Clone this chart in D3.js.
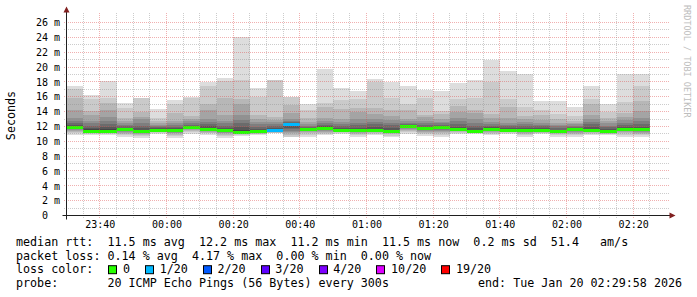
<!DOCTYPE html>
<html>
<head>
<meta charset="utf-8">
<script src="https://cdn.jsdelivr.net/npm/d3@7"></script>
<style>
  html, body { margin: 0; padding: 0; background: #fff; }
  svg { display: block; font-family: 'DejaVu Sans Mono', monospace; }
  .pre { white-space: pre; }
</style>
</head>
<body>
<svg id="chart" width="697" height="297"></svg>
<script>
// time window: 5 minute steps, 35 samples
const START = Date.UTC(2026, 0, 19, 23, 30);
const END = Date.UTC(2026, 0, 20, 2, 30);
const STEP_MS = 5 * 60 * 1000;

// 20 sorted pings per step (ms), null = lost
const pings = [
  [10.9, 11.1, 11.3, 11.45, 11.55, 11.62, 11.68, 11.74, 11.8, 11.85, 11.95, 12.05, 12.2, 12.45, 12.75, 13.1, 14.2, 15.9, 17.0, 17.5],
  [10.8, 10.95, 11.05, 11.12, 11.18, 11.23, 11.27, 11.3, 11.33, 11.35, 11.42, 11.6, 11.85, 12.1, 12.4, 12.8, 13.5, 14.1, 15.7, 16.2],
  [10.9, 11.0, 11.08, 11.14, 11.2, 11.24, 11.28, 11.31, 11.33, 11.35, 11.42, 11.6, 11.95, 12.35, 12.8, 13.3, 14.2, 15.2, 15.9, 18.1],
  [10.55, 10.8, 11.0, 11.15, 11.28, 11.38, 11.45, 11.5, 11.55, 11.58, 11.65, 11.75, 11.85, 12.0, 12.2, 12.4, 12.8, 13.1, 14.5, 15.1],
  [10.4, 10.65, 10.85, 10.98, 11.07, 11.13, 11.18, 11.22, 11.25, 11.27, 11.35, 11.5, 11.8, 12.1, 12.5, 13.0, 13.3, 14.0, 15.8, 15.9],
  [10.95, 11.1, 11.2, 11.28, 11.34, 11.39, 11.43, 11.46, 11.48, 11.49, 11.56, 11.65, 11.75, 11.88, 12.0, 12.2, 12.4, 12.8, 13.2, 14.3],
  [10.4, 10.7, 10.9, 11.05, 11.15, 11.23, 11.3, 11.36, 11.4, 11.43, 11.5, 11.6, 11.75, 11.95, 12.2, 12.5, 12.8, 13.8, 15.0, 15.5],
  [11.0, 11.2, 11.38, 11.5, 11.6, 11.68, 11.74, 11.79, 11.82, 11.85, 11.92, 12.0, 12.1, 12.25, 12.5, 12.8, 13.0, 13.4, 15.8, 16.0],
  [10.9, 11.05, 11.18, 11.28, 11.36, 11.43, 11.48, 11.52, 11.55, 11.58, 11.66, 11.8, 12.0, 12.3, 12.6, 13.0, 14.2, 15.0, 17.4, 18.0],
  [10.4, 10.7, 10.9, 11.05, 11.15, 11.23, 11.3, 11.36, 11.4, 11.43, 11.5, 11.62, 11.82, 12.1, 12.4, 12.8, 13.6, 15.9, 18.1, 18.5],
  [10.7, 10.82, 10.92, 11.0, 11.06, 11.11, 11.15, 11.18, 11.2, 11.22, 11.3, 11.5, 11.9, 12.4, 12.9, 13.6, 15.0, 15.7, 18.2, 24.0],
  [10.8, 10.92, 11.02, 11.08, 11.14, 11.18, 11.21, 11.24, 11.26, 11.27, 11.34, 11.48, 11.7, 11.95, 12.3, 12.6, 13.0, 13.5, 16.0, 17.2],
  [10.95, 11.08, 11.18, 11.26, 11.32, 11.38, 11.42, 11.45, 11.48, 11.5, 11.56, 11.68, 11.85, 12.1, 12.3, 12.6, 12.9, 13.3, 18.3, null],
  [10.4, 10.6, 10.9, 11.1, 11.3, 11.45, 11.6, 11.8, 12.0, 12.2, 12.25, 12.35, 12.45, 12.6, 12.8, 13.0, 13.8, 14.9, 16.0, null],
  [10.55, 10.85, 11.05, 11.2, 11.32, 11.4, 11.47, 11.52, 11.56, 11.58, 11.64, 11.72, 11.82, 11.95, 12.1, 12.3, 12.6, 13.1, 14.2, 15.0],
  [10.8, 11.0, 11.15, 11.28, 11.38, 11.46, 11.53, 11.59, 11.63, 11.66, 11.74, 11.85, 12.0, 12.25, 12.5, 12.8, 13.2, 14.6, 15.2, 19.8],
  [11.0, 11.12, 11.22, 11.3, 11.36, 11.41, 11.44, 11.46, 11.48, 11.49, 11.55, 11.65, 11.8, 12.05, 12.3, 12.6, 13.0, 14.4, 15.5, 17.2],
  [10.55, 10.8, 10.98, 11.1, 11.2, 11.27, 11.33, 11.38, 11.41, 11.43, 11.5, 11.62, 11.85, 12.15, 12.5, 13.0, 13.9, 14.5, 15.7, 16.8],
  [10.8, 10.98, 11.1, 11.2, 11.27, 11.32, 11.36, 11.39, 11.42, 11.44, 11.5, 11.65, 11.95, 12.3, 12.6, 13.0, 13.7, 14.5, 18.0, 18.4],
  [10.55, 10.78, 10.95, 11.06, 11.15, 11.21, 11.26, 11.3, 11.33, 11.35, 11.42, 11.58, 11.85, 12.15, 12.5, 12.9, 13.4, 14.2, 15.9, 18.0],
  [10.95, 11.2, 11.4, 11.55, 11.68, 11.77, 11.84, 11.9, 11.95, 11.98, 12.04, 12.12, 12.22, 12.35, 12.5, 12.7, 13.0, 14.2, 15.0, 17.4],
  [10.75, 10.98, 11.15, 11.3, 11.42, 11.5, 11.57, 11.63, 11.67, 11.7, 11.77, 11.86, 11.98, 12.2, 12.5, 12.8, 13.3, 13.6, 15.8, 16.9],
  [10.55, 10.85, 11.1, 11.3, 11.45, 11.58, 11.68, 11.75, 11.8, 11.84, 11.9, 11.96, 12.04, 12.2, 12.4, 12.6, 13.0, 13.7, 14.1, 16.8],
  [10.95, 11.1, 11.22, 11.32, 11.4, 11.47, 11.52, 11.56, 11.59, 11.61, 11.68, 11.78, 11.95, 12.3, 12.7, 13.2, 13.9, 14.8, 15.7, 17.8],
  [10.95, 11.05, 11.12, 11.18, 11.23, 11.27, 11.3, 11.32, 11.34, 11.35, 11.42, 11.55, 11.75, 12.1, 12.5, 13.0, 13.8, 14.15, 15.9, 18.2],
  [10.8, 10.98, 11.12, 11.24, 11.34, 11.42, 11.48, 11.53, 11.56, 11.58, 11.64, 11.72, 11.86, 12.1, 12.3, 12.6, 13.2, 13.7, 18.0, 20.9],
  [11.0, 11.12, 11.22, 11.3, 11.36, 11.41, 11.44, 11.46, 11.48, 11.49, 11.54, 11.62, 11.76, 12.0, 12.2, 12.5, 13.2, 14.6, 15.7, 19.5],
  [10.55, 10.8, 10.98, 11.1, 11.19, 11.26, 11.31, 11.35, 11.38, 11.4, 11.46, 11.58, 11.8, 12.05, 12.3, 12.6, 13.0, 13.4, 14.6, 19.0],
  [10.95, 11.08, 11.18, 11.26, 11.32, 11.38, 11.42, 11.45, 11.48, 11.49, 11.54, 11.62, 11.76, 12.0, 12.2, 12.5, 12.9, 13.5, 14.15, 15.4],
  [10.6, 10.8, 10.95, 11.05, 11.13, 11.19, 11.24, 11.27, 11.3, 11.31, 11.37, 11.45, 11.58, 11.8, 12.0, 12.2, 12.5, 13.0, 13.7, 15.4],
  [10.6, 10.85, 11.0, 11.15, 11.27, 11.36, 11.43, 11.48, 11.51, 11.53, 11.58, 11.66, 11.77, 11.95, 12.1, 12.3, 12.5, 12.8, 13.35, 14.6],
  [10.8, 10.98, 11.1, 11.2, 11.27, 11.32, 11.36, 11.39, 11.42, 11.44, 11.5, 11.66, 11.95, 12.3, 12.6, 13.0, 13.5, 15.0, 15.7, 17.4],
  [10.8, 10.92, 11.02, 11.1, 11.16, 11.21, 11.25, 11.28, 11.3, 11.31, 11.38, 11.5, 11.66, 11.9, 12.1, 12.4, 12.8, 13.2, 13.9, 15.0],
  [10.6, 10.85, 11.05, 11.2, 11.32, 11.41, 11.48, 11.53, 11.56, 11.58, 11.64, 11.75, 11.95, 12.2, 12.5, 12.9, 13.3, 13.8, 15.3, 19.0],
  [10.55, 10.82, 11.02, 11.18, 11.3, 11.4, 11.47, 11.52, 11.56, 11.58, 11.64, 11.75, 11.95, 12.3, 12.7, 13.2, 14.1, 15.4, 17.5, 19.0]
];

const median = [
  11.9, 11.36, 11.36, 11.59, 11.28, 11.5, 11.45, 11.86, 11.59, 11.45,
  11.23, 11.28, 11.5, 12.2, 11.59, 11.68, 11.5, 11.45, 11.45, 11.36,
  12.0, 11.72, 11.86, 11.63, 11.36, 11.59, 11.5, 11.41, 11.5, 11.32,
  11.54, 11.45, 11.32, 11.59, 11.59
];

const lost = [
  0, 0, 0, 0, 0, 0, 0, 0, 0, 0,
  0, 0, 1, 1, 0, 0, 0, 0, 0, 0,
  0, 0, 0, 0, 0, 0, 0, 0, 0, 0,
  0, 0, 0, 0, 0
];

const lossLevels = [0, 1, 2, 3, 4, 10, 19];
const lossLabels = ['0', '1/20', '2/20', '3/20', '4/20', '10/20', '19/20'];
const lossColors = ['#26ff00', '#00b8ff', '#0059ff', '#5e00ff', '#7e00ff', '#dd00ff', '#ff0000'];

const yTickValues = [0, 2, 4, 6, 8, 10, 12, 14, 16, 18, 20, 22, 24, 26];
const xTickLabels = ['23:40', '00:00', '00:20', '00:40', '01:00', '01:20', '01:40', '02:00', '02:20'];

const legendLines = [
  'median rtt:  11.5 ms avg  12.2 ms max  11.2 ms min  11.5 ms now  0.2 ms sd  51.4   am/s',
  'packet loss: 0.14 % avg  4.17 % max  0.00 % min  0.00 % now'
];
const probeText = 'probe:       20 ICMP Echo Pings (56 Bytes) every 300s';
const endText = 'end: Tue Jan 20 02:29:58 2026';

// ---- layout ----
const X0 = 66.5, X1 = 666.5, Y0 = 215.5, Y1 = 15.5;
const YMAX = 26.95;
const PINGS = 20;

const svg = d3.select('#chart');
svg.append('rect').attr('width', 697).attr('height', 297).attr('fill', '#fff');

const x = d3.scaleUtc().domain([START, END]).range([X0, X1]);
const y = d3.scaleLinear().domain([0, YMAX]).range([Y0, Y1]);

const samples = pings.map((p, i) => ({
  t: START + i * STEP_MS,
  pings: p,
  median: median[i],
  lost: lost[i]
}));

// ---- smoke ----
const smoke = svg.append('g').attr('shape-rendering', 'crispEdges');
for (let k = 1; k <= PINGS / 2; k++) {
  const shade = Math.floor((190 / (PINGS / 2)) * (PINGS / 2 - k)) + 50;
  const col = d3.rgb(shade, shade, shade).formatHex();
  smoke.append('g')
    .selectAll('rect')
    .data(samples.filter(d => d.pings[k - 1] != null && d.pings[PINGS - k] != null))
    .enter()
    .append('rect')
    .attr('x', d => x(d.t))
    .attr('width', d => x(d.t + STEP_MS) - x(d.t))
    .attr('y', d => y(d.pings[PINGS - k]))
    .attr('height', d => y(d.pings[k - 1]) - y(d.pings[PINGS - k]))
    .attr('fill', col);
}

// ---- median coloured by loss ----
function lossColor(n) {
  let c = lossColors[0];
  lossLevels.forEach((lv, i) => { if (n >= lv) c = lossColors[i]; });
  return c;
}
svg.append('g').attr('shape-rendering', 'crispEdges')
  .selectAll('rect')
  .data(samples)
  .enter()
  .append('rect')
  .attr('x', d => x(d.t))
  .attr('width', d => x(d.t + STEP_MS) - x(d.t))
  .attr('y', d => y(d.median) - 1.5)
  .attr('height', 3)
  .attr('fill', d => lossColor(d.lost));

// ---- grid (drawn on top, rrdtool style, 1px dots on whole pixels) ----
const MINOR = 'rgba(143,143,143,0.45)';
const MAJOR = 'rgba(222,79,79,0.45)';
const snap = v => Math.round(v - 0.5) + 0.5;
const grid = svg.append('g').attr('fill', 'none').attr('stroke-width', 1).attr('stroke-dasharray', '1,1');

const yMinor = d3.range(1, 27, 1).filter(v => v % 2 !== 0);
grid.selectAll('.hmin').data(yMinor).enter().append('line')
  .attr('x1', X0 - 2.5).attr('x2', X1 + 2.5)
  .attr('y1', d => snap(y(d))).attr('y2', d => snap(y(d)))
  .attr('stroke', MINOR);
grid.selectAll('.hmaj').data(yTickValues.filter(v => v > 0)).enter().append('line')
  .attr('x1', X0 - 2.5).attr('x2', X1 + 2.5)
  .attr('y1', d => snap(y(d))).attr('y2', d => snap(y(d)))
  .attr('stroke', MAJOR);

const xMinor = x.ticks(d3.utcMinute.every(5)).filter(t => t.getUTCMinutes() % 20 !== 0 && +t > START && +t < END);
const xMajor = x.ticks(d3.utcMinute.every(20)).filter(t => +t > START && +t < END);
grid.selectAll('.vmin').data(xMinor).enter().append('line')
  .attr('y1', Y1 - 2.5).attr('y2', Y0 + 2.5)
  .attr('x1', d => snap(x(d))).attr('x2', d => snap(x(d)))
  .attr('stroke', MINOR);
grid.selectAll('.vmaj').data(xMajor).enter().append('line')
  .attr('y1', Y1 - 2.5).attr('y2', Y0 + 2.5)
  .attr('x1', d => snap(x(d))).attr('x2', d => snap(x(d)))
  .attr('stroke', MAJOR);

// ---- axes ----
const yAxis = d3.axisLeft(y)
  .tickValues(yTickValues)
  .tickSize(0)
  .tickPadding(6.5)
  .tickFormat(v => (v === 0 ? '0\u00a0\u00a0' : v + ' m'));
const gy = svg.append('g').attr('transform', `translate(${X0},0)`).call(yAxis);
gy.select('.domain').remove();
gy.selectAll('text').attr('class', 'pre').attr('font-family', "'DejaVu Sans Mono', monospace").attr('font-size', 10).attr('fill', '#000');

const parseHM = s => {
  const [h, m] = s.split(':').map(Number);
  return Date.UTC(2026, 0, h >= 12 ? 19 : 20, h, m);
};
const xAxis = d3.axisBottom(x)
  .tickValues(xTickLabels.map(parseHM))
  .tickSize(0)
  .tickPadding(5)
  .tickFormat(d3.utcFormat('%H:%M'));
const gx = svg.append('g').attr('transform', `translate(0,${Y0})`).call(xAxis);
gx.select('.domain').remove();
gx.selectAll('text').attr('font-family', "'DejaVu Sans Mono', monospace").attr('font-size', 10).attr('fill', '#000');

const AXIS = '#1f1f1f', ARROW = '#801f1f';
svg.append('line').attr('x1', X0 - 4).attr('x2', X1 + 4).attr('y1', Y0).attr('y2', Y0).attr('stroke', AXIS);
svg.append('line').attr('x1', X0).attr('x2', X0).attr('y1', Y0 + 4).attr('y2', Y1 - 4).attr('stroke', AXIS);
svg.append('path')
  .attr('d', `M${X1 + 3},${Y0 - 3} L${X1 + 9},${Y0} L${X1 + 3},${Y0 + 3} Z`)
  .attr('fill', ARROW);
svg.append('path')
  .attr('d', `M${X0 - 3},${Y1 - 3} L${X0},${Y1 - 9} L${X0 + 3},${Y1 - 3} Z`)
  .attr('fill', ARROW);

// ---- labels ----
svg.append('text')
  .attr('transform', `translate(14.5,${(Y0 + Y1) / 2}) rotate(-90)`)
  .attr('text-anchor', 'middle')
  .attr('font-size', 11.7)
  .text('Seconds');

svg.append('text')
  .attr('transform', 'translate(684,5) rotate(90)')
  .attr('font-size', 8.5)
  .attr('fill', '#bdbdbd')
  .text('RRDTOOL / TOBI OETIKER');

// ---- legend ----
const LEG_X = 16, LEG_Y = 246, LEG_DY = 13.6, LEG_FS = 11.7;
legendLines.forEach((s, i) => {
  svg.append('text').attr('class', 'pre')
    .attr('x', LEG_X).attr('y', LEG_Y + i * LEG_DY)
    .attr('font-size', LEG_FS)
    .text(s);
});

const lcY = LEG_Y + 2 * LEG_DY;
svg.append('text').attr('class', 'pre').attr('x', LEG_X).attr('y', lcY).attr('font-size', LEG_FS).text('loss color:');
let bx = 108.3;
lossLabels.forEach((lab, i) => {
  svg.append('rect')
    .attr('x', Math.round(bx) + 0.5).attr('y', lcY - 7.5)
    .attr('width', 8).attr('height', 8)
    .attr('fill', lossColors[i]).attr('stroke', '#000');
  const t = svg.append('text').attr('x', bx + 14.6).attr('y', lcY).attr('font-size', LEG_FS).text(lab);
  bx = bx + 14.6 + t.node().getComputedTextLength() + 15.1;
});

const prY = LEG_Y + 3 * LEG_DY;
svg.append('text').attr('class', 'pre').attr('x', LEG_X).attr('y', prY).attr('font-size', LEG_FS).text(probeText);
svg.append('text').attr('class', 'pre').attr('x', 478).attr('y', prY).attr('font-size', LEG_FS).text(endText);
</script>
</body>
</html>
